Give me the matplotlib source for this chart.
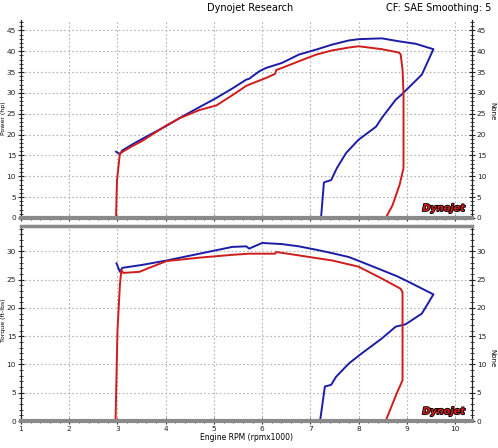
import numpy as np
import matplotlib
matplotlib.use('Agg')
import matplotlib.pyplot as plt
from matplotlib.ticker import MultipleLocator
import matplotlib.patheffects as pe

# Datos - potencia (hp) vs rpm x1000
pot_azul_rpm = [2.97, 3.05, 3.10, 3.30, 3.50, 4.00, 4.29, 4.70, 5.05, 5.40, 5.67, 5.73, 5.94, 6.08,
                6.41, 6.76, 7.12, 7.45, 7.80, 8.00, 8.48, 8.83, 9.18, 9.55,
                9.31, 8.89, 8.77, 8.48, 8.36, 8.00, 7.74, 7.55, 7.43, 7.32, 7.28, 7.22]
pot_azul_hp = [15.9, 15.3, 16.2, 17.6, 18.9, 22.0, 24.0, 26.6, 28.8, 31.2, 33.2, 33.4, 35.2, 36.0,
               37.2, 39.2, 40.4, 41.6, 42.6, 42.9, 43.1, 42.4, 41.8, 40.5,
               34.4, 29.6, 28.4, 24.0, 21.9, 18.8, 15.6, 12.0, 9.1, 8.7, 8.5, 0.0]
pot_roja_rpm = [2.97, 2.99, 3.05, 3.30, 3.50, 4.00, 4.30, 4.70, 5.05, 5.40, 5.67, 5.73, 6.08, 6.27,
                6.29, 6.41, 6.76, 7.12, 7.45, 7.80, 8.00, 8.48, 8.83, 8.87, 8.91, 8.93, 8.93,
                8.85, 8.70, 8.56]
pot_roja_hp = [0.0, 9.0, 15.5, 17.2, 18.4, 22.1, 24.0, 25.9, 27.0, 29.6, 31.7, 32.0, 33.6, 34.6,
               35.5, 36.0, 37.6, 39.2, 40.2, 40.9, 41.2, 40.5, 39.7, 39.3, 35.6, 30.0, 12.0,
               8.0, 3.0, 0.0]

# Datos - torque (ft-lbs) vs rpm x1000
tor_azul_rpm = [2.98, 3.05, 3.10, 3.50, 4.02, 4.70, 5.38, 5.67, 5.73, 6.00, 6.41, 6.76, 7.12, 7.45,
                7.80, 8.10, 8.48, 8.80, 9.04, 9.55,
                9.31, 8.97, 8.77, 8.48, 8.07, 7.80, 7.53, 7.43, 7.30, 7.20]
tor_azul_lb = [27.9, 26.4, 27.1, 27.6, 28.4, 29.6, 30.8, 30.9, 30.5, 31.5, 31.3, 30.9, 30.3, 29.7,
               29.0, 28.0, 26.7, 25.6, 24.6, 22.4,
               19.0, 17.1, 16.7, 14.6, 12.0, 10.2, 7.8, 6.4, 6.1, 0.0]
tor_roja_rpm = [2.96, 2.98, 3.00, 3.05, 3.08, 3.12, 3.46, 3.60, 4.02, 4.70, 5.38, 5.73, 6.27, 6.29,
                6.76, 7.45, 8.00, 8.48, 8.87, 8.91, 8.91, 8.79, 8.56]
tor_roja_lb = [0.0, 8.0, 16.0, 24.0, 26.7, 26.2, 26.4, 26.9, 28.3, 28.9, 29.4, 29.6, 29.6, 29.9,
               29.3, 28.4, 27.3, 25.2, 23.4, 22.8, 7.2, 4.9, 0.0]

azul = '#1c1ca8'
rojo = '#d01c1c'
gris = '#8a8a8a'

fig = plt.figure(figsize=(4.98, 4.48), dpi=100)
fig.patch.set_facecolor('white')

ax1 = fig.add_axes([21/498, 1-218/448, 451/498, 198/448])
ax2 = fig.add_axes([21/498, 1-421/448, 451/498, 195/448])


def estilo(ax, ymax):
    ax.set_xlim(1, 10.35)
    ax.set_ylim(0, ymax)
    ax.xaxis.set_major_locator(MultipleLocator(1))
    ax.xaxis.set_minor_locator(MultipleLocator(0.2))
    ax.yaxis.set_major_locator(MultipleLocator(5))
    ax.yaxis.set_minor_locator(MultipleLocator(1))
    ax.grid(True, which='major', color='#b4b4b4', linestyle=(0, (1.5, 2)), linewidth=0.8)
    ax.tick_params(which='both', labelsize=5.3, colors='#222222', direction='inout',
                   left=True, right=True, labelright=True, bottom=True, top=False,
                   pad=1)
    ax.tick_params(which='major', length=5, width=0.8)
    ax.tick_params(which='minor', length=3, width=0.6)
    for lado in ['left', 'right']:
        ax.spines[lado].set_color('#222222')
        ax.spines[lado].set_linewidth(0.9)
    ax.spines['bottom'].set_color(gris)
    ax.spines['bottom'].set_linewidth(3.0)


estilo(ax1, 47.5)
estilo(ax2, 34.5)
ax1.spines['top'].set_visible(False)
ax1.tick_params(labelbottom=False)
ax2.spines['top'].set_color(gris)
ax2.spines['top'].set_linewidth(2.5)

ax1.plot(pot_azul_rpm, pot_azul_hp, color=azul, lw=1.4)
ax1.plot(pot_roja_rpm, pot_roja_hp, color=rojo, lw=1.4)
ax2.plot(tor_azul_rpm, tor_azul_lb, color=azul, lw=1.4)
ax2.plot(tor_roja_rpm, tor_roja_lb, color=rojo, lw=1.4)

# etiquetas de ejes
fig.text(3.5/498, 1-118/448, 'Power (hp)', fontsize=4.5, rotation=90, ha='center', va='center')
fig.text(3.5/498, 1-320/448, 'Torque (ft-lbs)', fontsize=4.5, rotation=90, ha='center', va='center')
ax2.set_xlabel('Engine RPM (rpmx1000)', fontsize=5.5, labelpad=1)
ax1.text(1.045, 0.54, 'None', transform=ax1.transAxes, rotation=270,
         fontsize=5, va='center', ha='center')
ax2.text(1.045, 0.32, 'None', transform=ax2.transAxes, rotation=270,
         fontsize=5, va='center', ha='center')
for ax in (ax1, ax2):
    ax.text(0.985, 0.025, 'Dynojet', transform=ax.transAxes, ha='right', va='bottom',
            fontsize=7, fontweight='bold', style='italic', color=rojo,
            path_effects=[pe.withStroke(linewidth=1.2, foreground='black')])

fig.text(250/498, 1-8/448, 'Dynojet Research', fontsize=7, ha='center', va='center')
fig.text(491/498, 1-8/448, 'CF: SAE Smoothing: 5', fontsize=7, ha='right', va='center')

fig.savefig('out.png', dpi=100)
